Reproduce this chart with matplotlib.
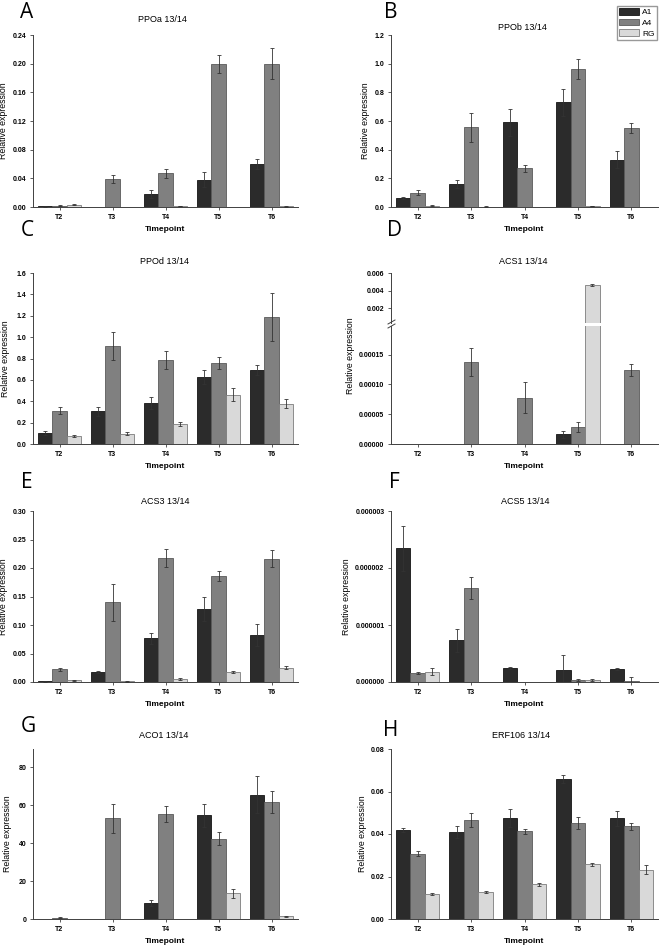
import numpy as np
import matplotlib
matplotlib.use('Agg')
import matplotlib.pyplot as plt
from matplotlib.lines import Line2D
from matplotlib.patches import Patch

plt.rcParams['font.family'] = ['Liberation Sans', 'DejaVu Sans']

timepoints = ['T2', 'T3', 'T4', 'T5', 'T6']
line_names = ['A1', 'A4', 'RG']
bar_colors = ['#2b2b2b', '#808080', '#d9d9d9']
edge_colors = ['#151515', '#5a5a5a', '#7c7c7c']

# rows: A1, A4, RG ; columns: T2..T6
ppoa_mean = [[0.0008, 0.0003, 0.018, 0.038, 0.060],
             [0.002, 0.039, 0.047, 0.200, 0.200],
             [0.003, 0.0, 0.001, 0.0005, 0.001]]
ppoa_err = [[0.0003, 0.0, 0.006, 0.0105, 0.0063],
            [0.0006, 0.0057, 0.006, 0.0125, 0.022],
            [0.0005, 0.0, 0.0003, 0.0, 0.0004]]

ppob_mean = [[0.063, 0.16, 0.59, 0.73, 0.33],
             [0.10, 0.555, 0.27, 0.96, 0.55],
             [0.009, 0.003, 0.0, 0.008, 0.002]]
ppob_err = [[0.008, 0.03, 0.097, 0.095, 0.06],
            [0.016, 0.10, 0.025, 0.07, 0.033],
            [0.002, 0.002, 0.0, 0.002, 0.0]]

ppod_mean = [[0.10, 0.305, 0.384, 0.624, 0.692],
             [0.312, 0.92, 0.783, 0.761, 1.188],
             [0.075, 0.097, 0.19, 0.462, 0.377]]
ppod_err = [[0.02, 0.04, 0.06, 0.065, 0.044],
            [0.033, 0.13, 0.085, 0.056, 0.226],
            [0.01, 0.012, 0.02, 0.064, 0.042]]

acs1_mean = [[0.0, 0.0, 0.0, 0.0000162, 0.0],
             [0.0, 0.000138, 0.000078, 0.000028, 0.000124],
             [0.0, 0.0, 0.0, 0.0046, 0.0]]
acs1_err = [[0.0, 0.0, 0.0, 0.000006, 0.0],
            [0.0, 0.0000238, 0.0000257, 0.0000087, 0.0000106],
            [0.0, 0.0, 0.0, 0.0001, 0.0]]

acs3_mean = [[0.001, 0.018, 0.0766, 0.1287, 0.0825],
             [0.0222, 0.1398, 0.217, 0.186, 0.216],
             [0.003, 0.001, 0.0053, 0.018, 0.0251]]
acs3_err = [[0.0003, 0.002, 0.01, 0.021, 0.02],
            [0.003, 0.033, 0.016, 0.0094, 0.015],
            [0.001, 0.0003, 0.001, 0.002, 0.003]]

acs5_mean = [[2.345e-6, 0.731e-6, 0.24e-6, 0.21e-6, 0.234e-6],
             [0.152e-6, 1.649e-6, 0.0, 0.03e-6, 0.01e-6],
             [0.181e-6, 0.0, 0.0, 0.03e-6, 0.0]]
acs5_err = [[0.39e-6, 0.2e-6, 0.02e-6, 0.26e-6, 0.015e-6],
            [0.02e-6, 0.2e-6, 0.0, 0.02e-6, 0.07e-6],
            [0.065e-6, 0.0, 0.0, 0.02e-6, 0.0]]

aco1_mean = [[0.0, 0.2, 8.3, 54.5, 65.4],
             [0.7, 53.0, 55.1, 42.3, 61.4],
             [0.0, 0.0, 0.0, 13.5, 1.4]]
aco1_err = [[0.0, 0.0, 1.5, 6.2, 9.8],
            [0.2, 7.6, 4.2, 3.5, 5.8],
            [0.0, 0.0, 0.0, 2.5, 0.3]]

erf106_mean = [[0.0418, 0.041, 0.0476, 0.0658, 0.0474],
               [0.0308, 0.0468, 0.0413, 0.0452, 0.0437],
               [0.0119, 0.0128, 0.0163, 0.0257, 0.0232]]
erf106_err = [[0.001, 0.0027, 0.0043, 0.002, 0.0035],
              [0.0013, 0.0033, 0.0011, 0.0028, 0.0017],
              [0.0004, 0.0006, 0.0007, 0.0008, 0.0021]]

W, H = 661, 948
fig = plt.figure(figsize=(W / 100, H / 100), dpi=100)


def px_rect(l, r, t, b):
    return [l / W, 1 - b / H, (r - l) / W, (b - t) / H]


def draw_bars(ax, mean, err):
    x = np.arange(1, 6)
    for i in range(3):
        xs = x + (i - 1) * 0.27
        m = np.array(mean[i])
        e = np.array(err[i])
        ax.bar(xs, m, 0.27, color=bar_colors[i], edgecolor=edge_colors[i],
               linewidth=0.6, zorder=2)
        k = e > 0
        ax.errorbar(xs[k], m[k], yerr=e[k], fmt='none', ecolor='#333333',
                    elinewidth=0.6, capsize=1.3, capthick=0.6, zorder=3)


def style_axes(ax, yticks, fmt, show_x=True):
    for s in ['top', 'right']:
        ax.spines[s].set_visible(False)
    for s in ['left', 'bottom']:
        ax.spines[s].set_color('#404040')
        ax.spines[s].set_linewidth(0.7)
    ax.tick_params(direction='out', length=2.2, width=0.6, colors='#404040',
                   labelcolor='black', labelsize=5, pad=2.5)
    ax.set_xlim(0.5, 5.5)
    ax.set_yticks(yticks, labels=[fmt % v for v in yticks], fontweight='bold')
    if show_x:
        ax.set_xticks(np.arange(1, 6), labels=timepoints, fontweight='bold')
        ax.set_xlabel('Timepoint', fontsize=6, fontweight='bold', labelpad=4)
    else:
        ax.spines['bottom'].set_visible(False)
        ax.set_xticks([])


def put_ylabel(ax, x_px):
    ax.set_ylabel('Relative expression', fontsize=6.3)
    l = ax.get_position().x0 * W
    w = ax.get_position().width * W
    ax.yaxis.set_label_coords((x_px - l) / w, 0.5)


# name, mean, err, letter, letter pos, title pos, axes rect, ylim, yticks, fmt, ylabel x
panels = [
    ('PPOa 13/14', ppoa_mean, ppoa_err, 'A', (27, 12), (162, 20), (33, 298, 35, 207),
     (0, 0.24), np.arange(0, 0.25, 0.04), '%.2f', 8),
    ('PPOb 13/14', ppob_mean, ppob_err, 'B', (391, 12), (522, 27), (391, 658, 35, 207),
     (0, 1.2), np.arange(0, 1.21, 0.2), '%.1f', 370),
    ('PPOd 13/14', ppod_mean, ppod_err, 'C', (27, 231), (165, 261), (33, 298, 273, 444),
     (0, 1.6), np.arange(0, 1.61, 0.2), '%.1f', 10),
    ('ACS3 13/14', acs3_mean, acs3_err, 'E', (27, 482), (165, 501), (33, 298, 511, 682),
     (0, 0.30), np.arange(0, 0.301, 0.05), '%.2f', 8),
    ('ACS5 13/14', acs5_mean, acs5_err, 'F', (394, 482), (525, 501), (391, 658, 511, 682),
     (0, 3e-6), np.array([0, 1e-6, 2e-6, 3e-6]), '%.6f', 351),
    ('ACO1 13/14', aco1_mean, aco1_err, 'G', (28, 726), (164, 735), (33, 298, 749, 919),
     (0, 89.5), np.arange(0, 81, 20), '%d', 12),
    ('ERF106 13/14', erf106_mean, erf106_err, 'H', (391, 730), (521, 735), (391, 658, 749, 919),
     (0, 0.08), np.arange(0, 0.081, 0.02), '%.2f', 367),
]

for title, mean, err, letter, lpos, tpos, r, ylim, yt, fmt, ylx in panels:
    ax = fig.add_axes(px_rect(*r))
    draw_bars(ax, mean, err)
    ax.set_ylim(*ylim)
    style_axes(ax, yt, fmt)
    put_ylabel(ax, ylx)
    fig.text(tpos[0] / W, 1 - tpos[1] / H, title, fontsize=6.5, ha='center', va='center')
    fig.text(lpos[0] / W, 1 - lpos[1] / H, letter, fontsize=15, ha='center', va='center',
             family=['Open Sans', 'DejaVu Sans'])

# panel D with broken y axis
ax_top = fig.add_axes(px_rect(391, 658, 273, 323))
ax_low = fig.add_axes(px_rect(391, 658, 326, 444))
draw_bars(ax_top, acs1_mean, acs1_err)
draw_bars(ax_low, acs1_mean, acs1_err)
ax_top.set_ylim(0.000286, 0.006)
ax_low.set_ylim(0, 0.000198)
style_axes(ax_top, np.array([0.002, 0.004, 0.006]), '%.3f', show_x=False)
style_axes(ax_low, np.array([0, 0.00005, 0.0001, 0.00015]), '%.5f')
ax_low.set_ylabel('Relative expression', fontsize=6.3)
ax_low.yaxis.set_label_coords((355 - 391) / 267, (444 - 356) / 118)
fig.text(523 / W, 1 - 261 / H, 'ACS1 13/14', fontsize=6.5, ha='center', va='center')
fig.text(394 / W, 1 - 231 / H, 'D', fontsize=15, ha='center', va='center',
         family=['Open Sans', 'DejaVu Sans'])
for y0 in (320, 324):
    fig.add_artist(Line2D([388 / W, 395 / W], [1 - (y0 + 4) / H, 1 - y0 / H],
                          color='#404040', linewidth=0.7))

handles = [Patch(facecolor=bar_colors[i], edgecolor=edge_colors[i], linewidth=0.6,
                 label=line_names[i]) for i in range(3)]
fig.legend(handles=handles, loc='upper right', bbox_to_anchor=(657 / W, 1 - 6 / H),
           fontsize=6, frameon=True, fancybox=False, edgecolor='#808080',
           handlelength=2.4, handleheight=0.85, labelspacing=0.3, handletextpad=0.4,
           borderpad=0.25, borderaxespad=0)

fig.savefig('out.png', dpi=100, facecolor='white')
